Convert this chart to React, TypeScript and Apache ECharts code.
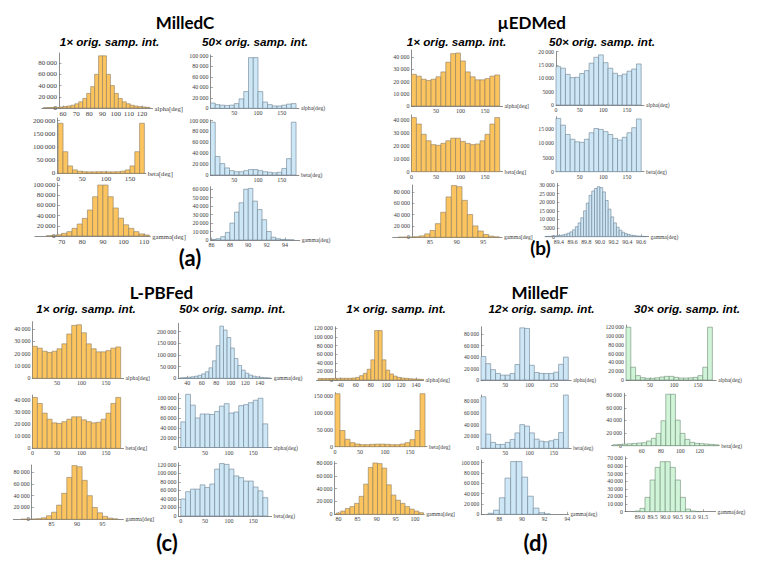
import React, { useEffect, useRef } from 'react';
import * as echarts from 'echarts';

// ---------------- counts ----------------
// (a) MilledC, 1x original sampling interval
const milledC1xAlpha = [500, 700, 1000, 1300, 1800, 2500, 3500, 5000, 7500, 11000, 17000, 26000, 38000, 60000, 93000, 93000, 60000, 40000, 26000, 17000, 11000, 7500, 5000, 3500, 2500, 1800, 1200];
const milledC1xBeta = [190000, 82000, 28000, 13000, 8000, 6000, 5500, 5500, 6000, 6000, 5500, 5500, 6000, 8000, 13000, 28000, 82000, 190000];
const milledC1xGamma = [500, 1000, 2500, 5200, 8500, 15000, 23500, 34600, 51000, 77000, 100000, 100000, 77000, 55000, 35000, 22000, 15000, 8500, 4000, 2000];
// (a) MilledC, 50x
const milledC50xAlpha = [10000, 7000, 6000, 5500, 6000, 9000, 18000, 32000, 97000, 97000, 32000, 12000, 7000, 4500, 4500, 6000, 8000, 9000];
const milledC50xBeta = [97000, 34000, 21000, 13000, 8000, 6000, 6000, 8000, 10000, 10000, 8000, 6000, 5000, 4000, 5000, 12000, 30000, 97000];
const milledC50xGamma = [700, 1500, 4000, 9000, 20000, 33000, 44000, 60000, 61000, 46000, 36000, 24000, 10000, 3300, 1500, 700, 300, 150];
// (b) µEDMed, 1x
const uEDMed1xAlpha = [26000, 24500, 22000, 21000, 22000, 24000, 28000, 36000, 43000, 43500, 37000, 28000, 24000, 21500, 21500, 22500, 24500, 25500];
const uEDMed1xBeta = [42000, 37000, 29000, 24000, 21000, 20500, 22000, 24000, 26000, 26000, 23500, 22000, 21000, 21500, 24000, 29000, 37000, 42000];
const uEDMed1xGamma = [200, 300, 500, 1000, 2500, 6000, 12000, 24000, 44000, 71000, 91000, 89000, 65000, 40000, 20000, 11000, 5000, 2000, 800];
// (b) µEDMed, 50x
const uEDMed50xAlpha = [14400, 13800, 11500, 10300, 10400, 11800, 12900, 15700, 17900, 18800, 15900, 13800, 11900, 11000, 11600, 12700, 13500, 15400];
const uEDMed50xBeta = [18900, 16500, 13200, 11500, 10600, 10400, 11500, 13800, 15300, 15000, 14200, 13200, 11800, 11200, 12200, 13800, 15600, 18700];
const uEDMed50xGamma = [150, 200, 300, 400, 550, 750, 1000, 1400, 2000, 2800, 4000, 5800, 8000, 11000, 15000, 19500, 24000, 26500, 28000, 29000, 28500, 26000, 21000, 16000, 11500, 8000, 5500, 3800, 2600, 1800, 1300, 900, 650, 450, 300, 200, 150];
// (c) L-PBFed, 1x
const lpbfed1xAlpha = [26000, 24500, 22000, 21000, 22000, 24000, 28000, 36000, 43000, 43500, 37000, 28000, 24000, 21500, 21500, 22500, 24500, 25500];
const lpbfed1xBeta = [42000, 37000, 29000, 24000, 21000, 20500, 22000, 24000, 26000, 26000, 23500, 22000, 21000, 21500, 24000, 29000, 37000, 42000];
const lpbfed1xGamma = [200, 300, 500, 1000, 2500, 6000, 12000, 24000, 44000, 71000, 91000, 89000, 66000, 40000, 20000, 11000, 5000, 2000, 800];
// (c) L-PBFed, 50x
const lpbfed50xGamma = [2000, 3000, 4500, 6500, 9000, 13000, 19000, 28000, 45000, 75000, 140000, 224000, 207000, 175000, 130000, 85000, 55000, 35000, 22000, 14000, 9000, 6000, 4000, 2500, 1500];
const lpbfed50xAlpha = [52000, 108000, 86000, 60000, 68000, 68000, 67000, 73000, 84000, 89000, 70000, 72000, 85000, 87000, 91000, 96000, 100000, 48000];
const lpbfed50xBeta = [40000, 57000, 63000, 63000, 73000, 67000, 75000, 110000, 123000, 121000, 110000, 94000, 90000, 82000, 82000, 68000, 59000, 43000];
// (d) MilledF, 1x
const milledF1xAlpha = [3500, 3500, 3500, 3500, 3800, 3800, 4000, 4000, 4000, 4600, 6000, 10000, 15500, 25000, 47000, 115000, 115000, 47000, 23000, 14000, 9000, 6000, 4500, 3800, 3000, 2500, 2000, 1500];
const milledF1xBeta = [157000, 48000, 22000, 12000, 8000, 6000, 6000, 7000, 7500, 7500, 7000, 6000, 6000, 8000, 12000, 21000, 48000, 157000];
const milledF1xGamma = [2000, 5000, 9000, 12000, 17000, 28000, 47000, 73000, 80000, 79000, 72000, 46000, 30000, 22000, 17000, 12000, 8000, 5000, 2500];
// (d) MilledF, 12x
const milledF12xAlpha = [41000, 28500, 18000, 11400, 8500, 8500, 11400, 27000, 91000, 90000, 25700, 13000, 11400, 11400, 11400, 13700, 27400, 40000];
const milledF12xBeta = [87000, 24000, 10000, 6600, 6600, 10000, 15000, 26000, 40000, 37500, 26000, 15500, 12000, 11000, 12700, 15000, 26500, 90000];
const milledF12xGamma = [2000, 8000, 32000, 70000, 102000, 102000, 72000, 35000, 12000, 3000, 800];
// (d) MilledF, 30x
const milledF30xAlpha = [120000, 29000, 10000, 5300, 3800, 3800, 5000, 6800, 8300, 8300, 6000, 4500, 4500, 5000, 6000, 10000, 29000, 120000];
const milledF30xBeta = [1500, 2000, 2500, 3000, 3500, 4200, 4700, 7400, 11600, 19500, 39500, 81500, 81500, 40500, 19500, 10000, 5300, 3700, 3200, 2600, 2100, 1500];
const milledF30xGamma = [900, 4400, 18800, 41500, 58000, 65500, 65500, 58000, 41500, 18800, 3500, 900, 300];

// ---------------- bins: [first bin start (deg), bin width (deg)] ----------------
const bins10 = [0, 10];
const binsC1xAlpha = [45, 3];
const binsC1xGamma = [62.5, 2.5];
const binsC50xGamma = [86, 0.5];
const binsU1xGamma = [79, 1];
const binsU50xGamma = [89.2, 0.04];
const binsL50xGamma = [30, 5];
const binsF1xAlpha = [10, 5];
const binsF1xGamma = [79.4, 1.2];
const binsF12xGamma = [87, 0.5];
const binsF30xBeta = [30, 5];
const binsF30xGamma = [88.8, 0.2];

// ---------------- tick labels ----------------
const xTicks50 = [50, 100, 150];
const xTicks0to150 = [0, 50, 100, 150];
const xTicksAlphaC1x = [60, 70, 80, 90, 100, 110, 120];
const xTicksGammaC1x = [70, 80, 90, 100, 110];
const xTicksGammaC50x = [86, 88, 90, 92, 94];
const xTicksGamma1x = [85, 90, 95];
const xTicksGammaU50x = [89.4, 89.6, 89.8, 90.0, 90.2, 90.4, 90.6];
const xTicksGammaL50x = [40, 60, 80, 100, 120, 140];
const xTicksAlphaF1x = [40, 60, 80, 100, 120, 140];
const xTicksGammaF1x = [80, 85, 90, 95, 100];
const xTicksGammaF12x = [88, 90, 92, 94];
const xTicksBetaF30x = [60, 80, 100, 120];
const xTicksGammaF30x = [89.0, 89.5, 90.0, 90.5, 91.0, 91.5];

const yTicks80k = [0, 20000, 40000, 60000, 80000];
const yTicks100k = [0, 20000, 40000, 60000, 80000, 100000];
const yTicks120k = [0, 20000, 40000, 60000, 80000, 100000, 120000];
const yTicks200k = [0, 50000, 100000, 150000, 200000];
const yTicks150k = [0, 50000, 100000, 150000];
const yTicks60k = [0, 10000, 20000, 30000, 40000, 50000, 60000];
const yTicks70k = [0, 10000, 20000, 30000, 40000, 50000, 60000, 70000];
const yTicks40k = [0, 10000, 20000, 30000, 40000];
const yTicks30k = [0, 5000, 10000, 15000, 20000, 25000, 30000];
const yTicks20k = [0, 5000, 10000, 15000, 20000];
const yTicks15k = [0, 5000, 10000, 15000];

// ---------------- styles ----------------
const ORANGE = { fill: '#FCC45E', stroke: '#8b7c63' };
const BLUE = { fill: '#CDE7F6', stroke: '#6d8192' };
const GREEN = { fill: '#CFF4D7', stroke: '#718b75' };
const SERIF = '"Liberation Serif", "DejaVu Serif", serif';
const AXIS_COLOR = '#707070';
const LABEL_COLOR = '#3c3c3c';

type Plot = {
  counts: number[]; bins: number[]; color: { fill: string; stroke: string };
  name: string; xTicks: number[]; yTicks: number[]; xDec: number;
  box: number[]; xRange: number[]; yAt: number; ymax: number; fs: number;
};

// layout: box = [left px, right px, top px, baseline px]
const PLOTS: Plot[] = [
  { counts: milledC1xAlpha, bins: binsC1xAlpha, color: ORANGE, name: 'alpha[deg]', xTicks: xTicksAlphaC1x, yTicks: yTicks80k, xDec: 0, box: [41.9, 152.6, 53, 108], xRange: [44, 128], yAt: 57, ymax: 98000, fs: 7 },
  { counts: milledC1xBeta, bins: bins10, color: ORANGE, name: 'beta[deg]', xTicks: xTicks0to150, yTicks: yTicks200k, xDec: 0, box: [57.3, 145.8, 118, 173.3], xRange: [-2, 183], yAt: -2, ymax: 210000, fs: 7 },
  { counts: milledC1xGamma, bins: binsC1xGamma, color: ORANGE, name: 'gamma[deg]', xTicks: xTicksGammaC1x, yTicks: yTicks100k, xDec: 0, box: [34.9, 150.3, 183, 236], xRange: [57, 113], yAt: 68, ymax: 104000, fs: 7 },
  { counts: milledC50xAlpha, bins: bins10, color: BLUE, name: 'alpha(deg)', xTicks: xTicks50, yTicks: yTicks100k, xDec: 0, box: [210.5, 298.9, 55, 108.3], xRange: [0, 186], yAt: 0, ymax: 102000, fs: 6 },
  { counts: milledC50xBeta, bins: bins10, color: BLUE, name: 'beta(deg)', xTicks: xTicks50, yTicks: yTicks100k, xDec: 0, box: [210.5, 298.9, 120, 175], xRange: [0, 186], yAt: 0, ymax: 101000, fs: 6 },
  { counts: milledC50xGamma, bins: binsC50xGamma, color: BLUE, name: 'gamma(deg)', xTicks: xTicksGammaC50x, yTicks: yTicks60k, xDec: 0, box: [210.6, 299.7, 186.7, 240], xRange: [85.9, 95.6], yAt: 85.9, ymax: 63000, fs: 6 },

  { counts: uEDMed1xAlpha, bins: bins10, color: ORANGE, name: 'alpha[deg]', xTicks: xTicks50, yTicks: yTicks40k, xDec: 0, box: [411.5, 502.6, 50, 106], xRange: [0, 186], yAt: 0, ymax: 46000, fs: 6 },
  { counts: uEDMed1xBeta, bins: bins10, color: ORANGE, name: 'beta[deg]', xTicks: xTicks0to150, yTicks: yTicks40k, xDec: 0, box: [411.5, 502.6, 115, 171.7], xRange: [0, 186], yAt: 0, ymax: 44000, fs: 6 },
  { counts: uEDMed1xGamma, bins: binsU1xGamma, color: ORANGE, name: 'gamma[deg]', xTicks: xTicksGamma1x, yTicks: yTicks80k, xDec: 0, box: [392.7, 502, 185, 237.3], xRange: [78, 98.5], yAt: 81.6, ymax: 92000, fs: 6 },
  { counts: uEDMed50xAlpha, bins: bins10, color: BLUE, name: 'alpha(deg)', xTicks: xTicks0to150, yTicks: yTicks20k, xDec: 0, box: [556, 644, 51.7, 105], xRange: [0, 186], yAt: 0, ymax: 20000, fs: 5.8 },
  { counts: uEDMed50xBeta, bins: bins10, color: BLUE, name: 'beta(deg)', xTicks: xTicks50, yTicks: yTicks15k, xDec: 0, box: [556, 644, 116.7, 171.7], xRange: [0, 186], yAt: 0, ymax: 19500, fs: 5.8 },
  { counts: uEDMed50xGamma, bins: binsU50xGamma, color: BLUE, name: 'gamma(deg)', xTicks: xTicksGammaU50x, yTicks: yTicks30k, xDec: 1, box: [545.2, 648.6, 183.3, 236.7], xRange: [89.2, 90.71], yAt: 89.37, ymax: 31000, fs: 5.8 },

  { counts: lpbfed1xAlpha, bins: bins10, color: ORANGE, name: 'alpha[deg]', xTicks: xTicks50, yTicks: yTicks40k, xDec: 0, box: [32.5, 123.6, 321.7, 378.3], xRange: [0, 186], yAt: 0, ymax: 46000, fs: 6 },
  { counts: lpbfed1xBeta, bins: bins10, color: ORANGE, name: 'beta[deg]', xTicks: xTicks0to150, yTicks: yTicks40k, xDec: 0, box: [32.5, 123.6, 395, 448.3], xRange: [0, 186], yAt: 0, ymax: 44000, fs: 6 },
  { counts: lpbfed1xGamma, bins: binsU1xGamma, color: ORANGE, name: 'gamma[deg]', xTicks: xTicksGamma1x, yTicks: yTicks80k, xDec: 0, box: [13.3, 123.4, 465, 519.3], xRange: [77.5, 99.1], yAt: 81.1, ymax: 92000, fs: 6 },
  { counts: lpbfed50xGamma, bins: binsL50xGamma, color: BLUE, name: 'gamma(deg)', xTicks: xTicksGammaL50x, yTicks: yTicks200k, xDec: 0, box: [178.3, 271.7, 323.3, 378.3], xRange: [27.7, 156.5], yAt: 27.7, ymax: 236000, fs: 6 },
  { counts: lpbfed50xAlpha, bins: bins10, color: BLUE, name: 'alpha(deg)', xTicks: xTicks50, yTicks: yTicks100k, xDec: 0, box: [178.4, 271.6, 393.3, 447.5], xRange: [-5, 188], yAt: -5, ymax: 110000, fs: 6 },
  { counts: lpbfed50xBeta, bins: bins10, color: BLUE, name: 'beta(deg)', xTicks: xTicks0to150, yTicks: yTicks120k, xDec: 0, box: [178.4, 271.6, 462.7, 516], xRange: [-5, 188], yAt: -5, ymax: 125000, fs: 6 },

  { counts: milledF1xAlpha, bins: binsF1xAlpha, color: ORANGE, name: 'alpha[deg]', xTicks: xTicksAlphaF1x, yTicks: yTicks120k, xDec: 0, box: [316.6, 423.6, 326.7, 380], xRange: [8, 150], yAt: 32.4, ymax: 124000, fs: 6 },
  { counts: milledF1xBeta, bins: bins10, color: ORANGE, name: 'beta[deg]', xTicks: xTicks0to150, yTicks: yTicks150k, xDec: 0, box: [335, 427, 392.7, 446.7], xRange: [0, 184], yAt: 0, ymax: 160000, fs: 6 },
  { counts: milledF1xGamma, bins: binsF1xGamma, color: ORANGE, name: 'gamma[deg]', xTicks: xTicksGammaF1x, yTicks: yTicks80k, xDec: 0, box: [334.6, 424.2, 461.7, 514.3], xRange: [79, 102.4], yAt: 79, ymax: 82000, fs: 6 },
  { counts: milledF12xAlpha, bins: bins10, color: BLUE, name: 'alpha(deg)', xTicks: xTicks50, yTicks: yTicks80k, xDec: 0, box: [481, 571.2, 326.7, 380], xRange: [0, 186], yAt: 0, ymax: 93000, fs: 5.6 },
  { counts: milledF12xBeta, bins: bins10, color: BLUE, name: 'beta(deg)', xTicks: xTicks50, yTicks: yTicks80k, xDec: 0, box: [481, 571.2, 395, 448.3], xRange: [0, 186], yAt: 0, ymax: 90000, fs: 5.6 },
  { counts: milledF12xGamma, bins: binsF12xGamma, color: BLUE, name: 'gamma(deg)', xTicks: xTicksGammaF12x, yTicks: yTicks100k, xDec: 0, box: [481.2, 568.4, 460, 514.3], xRange: [86.4, 94.1], yAt: 86.4, ymax: 105000, fs: 5.6 },
  { counts: milledF30xAlpha, bins: bins10, color: GREEN, name: 'alpha(deg)', xTicks: xTicks50, yTicks: yTicks120k, xDec: 0, box: [626, 716.2, 325, 380], xRange: [0, 188], yAt: 0, ymax: 125000, fs: 5.8 },
  { counts: milledF30xBeta, bins: binsF30xBeta, color: GREEN, name: 'beta(deg)', xTicks: xTicksBetaF30x, yTicks: yTicks80k, xDec: 0, box: [611.7, 719.2, 393.3, 445.7], xRange: [28.8, 140.5], yAt: 41.6, ymax: 83000, fs: 5.8 },
  { counts: milledF30xGamma, bins: binsF30xGamma, color: GREEN, name: 'gamma(deg)', xTicks: xTicksGammaF30x, yTicks: yTicks70k, xDec: 1, box: [625, 715.6, 456.7, 511.7], xRange: [88.41, 91.99], yAt: 88.41, ymax: 72000, fs: 5.8 },
];

const TITLE_FONT = 'Lato, "Open Sans", "Liberation Sans", sans-serif';
const SUB_FONT = '"Liberation Sans", Arial, sans-serif';
const TEXTS = [
  { text: 'MilledC', x: 185, y: 22, kind: 'title' },
  { text: '1× orig. samp. int.', x: 109.5, y: 41, kind: 'sub' },
  { text: '50× orig. samp. int.', x: 255, y: 41, kind: 'sub' },
  { text: '(a)', x: 190, y: 257, kind: 'panel' },
  { text: 'µEDMed', x: 531.7, y: 22, kind: 'title' },
  { text: '1× orig. samp. int.', x: 456.5, y: 41, kind: 'sub' },
  { text: '50× orig. samp. int.', x: 602, y: 41, kind: 'sub' },
  { text: '(b)', x: 540.5, y: 247, kind: 'panelSmall' },
  { text: 'L-PBFed', x: 161.5, y: 292.5, kind: 'title' },
  { text: '1× orig. samp. int.', x: 86, y: 308, kind: 'sub' },
  { text: '50× orig. samp. int.', x: 232.3, y: 308, kind: 'sub' },
  { text: '(c)', x: 167, y: 542, kind: 'panel' },
  { text: 'MilledF', x: 540, y: 292, kind: 'title' },
  { text: '1× orig. samp. int.', x: 396, y: 308, kind: 'sub' },
  { text: '12× orig. samp. int.', x: 541.5, y: 308.5, kind: 'sub' },
  { text: '30× orig. samp. int.', x: 687, y: 308, kind: 'sub' },
  { text: '(d)', x: 535.5, y: 542, kind: 'panel' },
];

function fmtCount(v: number): string {
  const n = Math.round(v);
  if (n >= 10000) {
    return `${Math.floor(n / 1000)}\u2009${String(n % 1000).padStart(3, '0')}`;
  }
  return String(n);
}

function buildOption() {
  const grid: any[] = [];
  const xAxis: any[] = [];
  const yAxis: any[] = [];
  const series: any[] = [];
  PLOTS.forEach((p, i) => {
    const [l, r, t, b] = p.box;
    const [xmin, xmax] = p.xRange;
    const w = r - l;
    const yAxisPx = ((p.yAt - xmin) / (xmax - xmin)) * w;
    grid.push({ left: l, top: t, width: w, height: b - t, containLabel: false, outerBoundsMode: 'none', show: false });
    xAxis.push({
      type: 'value', gridIndex: i, min: xmin, max: xmax, position: 'bottom',
      axisLine: { show: true, onZero: false, lineStyle: { color: AXIS_COLOR, width: 0.8 } },
      axisTick: { show: true, inside: true, length: 2.5, customValues: p.xTicks, lineStyle: { color: AXIS_COLOR, width: 0.6 } },
      axisLabel: {
        show: true, customValues: p.xTicks,
        formatter: (v: number) => (p.xDec ? Number(v).toFixed(p.xDec) : String(Math.round(v))),
        fontSize: p.fs, fontFamily: SERIF, color: LABEL_COLOR, margin: 2,
      },
      splitLine: { show: false },
      minorTick: { show: false },
      name: p.name, nameLocation: 'end', nameGap: 2, nameMoveOverlap: false,
      nameTextStyle: { fontSize: p.fs * 0.95, fontFamily: SERIF, color: LABEL_COLOR, align: 'left', verticalAlign: 'middle' },
    });
    yAxis.push({
      type: 'value', gridIndex: i, min: 0, max: p.ymax, position: 'left', offset: -yAxisPx,
      axisLine: { show: true, onZero: false, lineStyle: { color: AXIS_COLOR, width: 0.8 } },
      axisTick: { show: true, inside: true, length: 2.5, customValues: p.yTicks, lineStyle: { color: AXIS_COLOR, width: 0.6 } },
      axisLabel: {
        show: true, customValues: p.yTicks, formatter: (v: number) => fmtCount(v),
        fontSize: p.fs, fontFamily: SERIF, color: LABEL_COLOR, margin: 2,
      },
      splitLine: { show: false },
    });
    const [start, width] = p.bins;
    const fill = p.color.fill;
    const stroke = p.color.stroke;
    series.push({
      type: 'custom', xAxisIndex: i, yAxisIndex: i,
      data: p.counts.map((c, k) => [start + k * width, start + (k + 1) * width, c]),
      encode: { x: [0, 1], y: 2 },
      renderItem: (_params: any, api: any) => {
        const a = api.coord([api.value(0), api.value(2)]);
        const z = api.coord([api.value(1), 0]);
        return {
          type: 'rect',
          shape: { x: a[0], y: a[1], width: z[0] - a[0], height: z[1] - a[1] },
          style: { fill, stroke, lineWidth: 0.6 },
        };
      },
    });
  });

  const graphic = TEXTS.map((t) => {
    const base: any = { text: t.text, fill: '#000', align: 'center', verticalAlign: 'middle', textAlign: 'center', textVerticalAlign: 'middle' };
    if (t.kind === 'title') Object.assign(base, { fontSize: 17, fontWeight: 'bold', fontFamily: TITLE_FONT });
    else if (t.kind === 'panel') Object.assign(base, { fontSize: 22, fontWeight: 'bold', fontFamily: TITLE_FONT });
    else if (t.kind === 'panelSmall') Object.assign(base, { fontSize: 19, fontWeight: 'bold', fontFamily: TITLE_FONT });
    else Object.assign(base, { fontSize: 11.7, fontWeight: 'bold', fontStyle: 'italic', fontFamily: SUB_FONT });
    return { type: 'text', x: t.x, y: t.y, style: base, silent: true };
  });

  return {
    animation: false,
    backgroundColor: '#ffffff',
    grid, xAxis, yAxis, series, graphic,
  };
}

export default function App() {
  const ref = useRef<HTMLDivElement>(null);
  useEffect(() => {
    if (!ref.current) return;
    const chart = echarts.init(ref.current, undefined, { renderer: 'svg' });
    chart.setOption(buildOption() as any);
    return () => chart.dispose();
  }, []);
  return (
    <div
      ref={ref}
      style={{ position: 'absolute', left: 0, top: 0, width: 758, height: 561, background: '#fff' }}
    />
  );
}
